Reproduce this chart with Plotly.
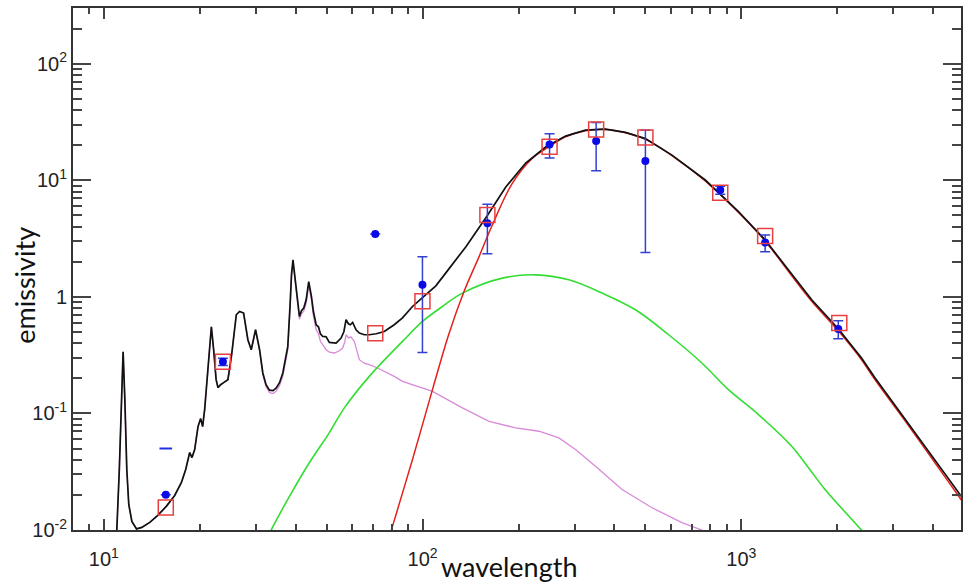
import plotly.graph_objects as go

# ---------------- data (wavelength in micron, emissivity) ----------------
obs_wl = [15.64, 23.63, 71.04, 99.9, 159.7, 250.3, 350.4, 500.2, 859, 1188, 2015]
obs_val = [0.02006, 0.2777, 3.462, 1.267, 4.276, 20.29, 21.66, 14.60, 8.243, 2.917, 0.5292]
obs_err = [0, 0.02, 0, 0.934, 1.94, 4.8, 9.6, 12.2, 0.65, 0.476, 0.093]

limit_wl = [15.64]
limit_val = [0.0500]

model_phot_wl = [15.64, 23.63, 71.04, 99.9, 159.7, 250.3, 350.4, 500.2, 859, 1188, 2030]
model_phot_val = [0.01561, 0.2777, 0.4870, 0.9151, 5.036, 19.36, 27.28, 23.30, 7.816, 3.329, 0.5954]

total_wl = [10.67, 10.98, 11.18, 11.34, 11.49, 11.635, 11.80, 11.97, 12.24, 12.66, 13.15, 13.93,
            14.76, 15.72, 16.68, 17.51, 18.06, 18.59, 18.90, 19.27, 19.74, 20.12, 20.41, 20.71,
            21.17, 21.74, 22.10, 22.50, 22.80, 23.24, 23.75, 24.50, 25.17, 26.03, 26.66, 27.44,
            28.30, 29.00, 29.92, 30.80, 31.53, 32.27, 33.09, 33.94, 34.74, 35.57, 36.43, 37.14,
            37.76, 38.42, 38.78, 39.20, 39.63, 40.11, 40.64, 41.08, 41.68, 42.38, 43.12, 43.93,
            44.80, 45.45, 46.35, 47.12, 47.80, 48.60, 49.81, 51.00, 53.53, 55.49, 56.62, 57.53,
            58.49, 59.34, 60.33, 61.83, 63.32, 65.64, 68.05, 71.55, 75.82, 81.48, 86.49, 92.97,
            99.71, 110.05, 118.3, 130.2, 136.6, 159.3, 182.4, 210.6, 243.3, 281.0, 324.6, 374.9,
            433.0, 500.2, 605.9, 770.9, 980.1, 1188, 1405, 1663, 2015, 2384, 2626, 3338, 4047,
            4892, 5143]
total_val = [0.00255, 0.01012, 0.0330, 0.1313, 0.338, 0.1313, 0.0330, 0.01657, 0.01185, 0.01022,
             0.01053, 0.01162, 0.01334, 0.01602, 0.01978, 0.02556, 0.0330, 0.04618, 0.04183, 0.0490,
             0.0771, 0.0902, 0.0771, 0.1078, 0.2371, 0.5535, 0.3517, 0.1948, 0.1663, 0.1764, 0.1835,
             0.1948, 0.3187, 0.7014, 0.7485, 0.7252, 0.4283, 0.3517, 0.5219, 0.3517, 0.2222, 0.1764,
             0.1583, 0.1567, 0.1653, 0.1835, 0.2222, 0.2888, 0.3754, 0.8833, 1.543, 2.074, 1.637,
             1.218, 0.854, 0.678, 0.759, 0.800, 0.9426, 1.352, 1.006, 0.744, 0.5757, 0.5535, 0.4823,
             0.4571, 0.4545, 0.4062, 0.4014, 0.4430, 0.5016, 0.6356, 0.5873, 0.5757, 0.6025, 0.5219,
             0.4890, 0.4727, 0.4727, 0.4823, 0.5046, 0.5757, 0.661, 0.826, 0.9805, 1.242, 1.605,
             2.244, 2.680, 4.938, 8.744, 14.04, 19.24, 23.90, 26.90, 27.44, 25.71, 22.75, 16.43,
             10.04, 5.374, 3.076, 1.703, 0.9426, 0.532, 0.2986, 0.2025, 0.0829, 0.04023, 0.01951,
             0.01624]

# small-grain (PAH) component: coincides with the total below ~30 micron
pah_wl = total_wl[:39] + [
    30.80, 31.53, 32.27, 33.09, 33.94, 34.74, 35.57, 36.43, 37.14, 37.76, 38.42, 38.78, 39.20,
    39.63, 40.11, 40.64, 41.08, 41.68, 42.38, 43.12, 43.93, 44.80, 45.45, 46.35, 47.12, 47.80,
    48.60, 49.81, 51.00, 52.88, 54.81, 56.13, 57.03, 57.53, 58.49, 59.64, 61.08, 62.19, 63.32,
    65.64, 68.05, 72.23, 81.48, 86.49, 107.4, 133.3, 161.6, 196.0, 231.8, 267.7, 301.9, 348.8,
    422.6, 524.5, 651.1, 752.0, 911.7]
pah_val = total_val[:39] + [
    0.3448, 0.2149, 0.1696, 0.1507, 0.1478, 0.1552, 0.1730, 0.2087, 0.2722, 0.3517, 0.8375,
    1.483, 1.994, 1.573, 1.171, 0.813, 0.6419, 0.7152, 0.7513, 0.8797, 1.267, 0.9333, 0.6809,
    0.5219, 0.4823, 0.4159, 0.3882, 0.3517, 0.3348, 0.3296, 0.3448, 0.3637, 0.4119, 0.4727,
    0.4456, 0.4519, 0.4144, 0.3517, 0.2888, 0.2696, 0.2617, 0.2452, 0.2078, 0.1883, 0.1546,
    0.1115, 0.0856, 0.0751, 0.0703, 0.0617, 0.0490, 0.0352, 0.02227, 0.01552, 0.01155,
    0.00998, 0.00753]

warm_wl = [31.92, 33.57, 38.22, 44.16, 51.00, 56.83, 68.05, 86.49, 99.92, 115.4, 133.3, 177.9,
           226.3, 287.7, 365.8, 465.4, 591.6, 752.0, 911.7, 1132, 1439, 1625, 1831, 2384, 2689]
warm_val = [0.00753, 0.01012, 0.0194, 0.0379, 0.0685, 0.1115, 0.2078, 0.4144, 0.6145, 0.826,
            1.076, 1.446, 1.543, 1.398, 1.076, 0.7741, 0.4727, 0.2706, 0.1599, 0.0977, 0.0523,
            0.0342, 0.02227, 0.00998, 0.00682]

cold_wl = [77.5, 80.5, 92.97, 107.4, 121.2, 134.9, 150.4, 165.5, 191.2, 220.8, 249.1, 281.0,
           324.6, 374.9, 433.0, 500.2, 605.9, 770.9, 980.1, 1188, 1405, 1663, 2015, 2384, 2626,
           3338, 4047, 4892, 5143]
cold_val = [0.00738, 0.0108, 0.04023, 0.1599, 0.4890, 1.110, 2.213, 4.134, 9.408, 15.40, 19.36,
            23.57, 26.53, 27.28, 25.51, 22.39, 16.27, 9.843, 5.290, 3.016, 1.653, 0.9151, 0.5116,
            0.2888, 0.1948, 0.0794, 0.0379, 0.01828, 0.01516]

x_tickvals = [10, 100, 1000]
x_ticktext = ["10<sup>1</sup>", "10<sup>2</sup>", "10<sup>3</sup>"]
y_tickvals = [0.01, 0.1, 1, 10, 100]
y_ticktext = ["10<sup>-2</sup>", "10<sup>-1</sup>", "1", "10<sup>1</sup>", "10<sup>2</sup>"]
x_minor = [8, 9] + [m * 10 for m in range(2, 10)] + [m * 100 for m in range(2, 10)] + [2000, 3000, 4000]
y_minor = [m * 0.01 for m in range(2, 10)] + [m * 0.1 for m in range(2, 10)] + \
          [m * 1 for m in range(2, 10)] + [m * 10 for m in range(2, 10)] + [200]

# ---------------- figure ----------------
fig = go.Figure()
fig.add_trace(go.Scatter(x=pah_wl, y=pah_val, mode="lines",
                         line=dict(color="#d88ad8", width=1.3), hoverinfo="skip"))
fig.add_trace(go.Scatter(x=warm_wl, y=warm_val, mode="lines", line_shape="spline",
                         line=dict(color="#33dd33", width=1.6), hoverinfo="skip"))
fig.add_trace(go.Scatter(x=cold_wl, y=cold_val, mode="lines", line_shape="spline",
                         line=dict(color="#e3211c", width=1.5), hoverinfo="skip"))
fig.add_trace(go.Scatter(x=total_wl, y=total_val, mode="lines",
                         line=dict(color="#111111", width=1.7), hoverinfo="skip"))
fig.add_trace(go.Scatter(x=obs_wl, y=obs_val, mode="markers",
                         marker=dict(color="#0a0ae8", size=8),
                         error_y=dict(type="data", array=obs_err, color="#3340d0",
                                      thickness=1.5, width=5)))
fig.add_trace(go.Scatter(x=limit_wl, y=limit_val, mode="markers",
                         marker=dict(symbol="line-ew", size=9, line=dict(color="#2030e0", width=2))))
fig.add_trace(go.Scatter(x=model_phot_wl, y=model_phot_val, mode="markers",
                         marker=dict(symbol="square-open", size=15,
                                     line=dict(color="#e84040", width=1.5), color="#e84040")))

tick_font = dict(family="Liberation Sans, Arial, sans-serif", size=20, color="#222222")
axis_common = dict(type="log", showgrid=False, zeroline=False, showline=True,
                   linecolor="#333333", linewidth=2, mirror="allticks", ticks="inside",
                   tickcolor="#444444", tickwidth=1.5)

fig.update_xaxes(**axis_common, range=[0.90309, 3.6894], tickmode="array",
                 tickvals=x_tickvals, ticktext=x_ticktext, ticklen=11, ticklabelstandoff=10,
                 tickfont=tick_font,
                 minor=dict(tickmode="array", tickvals=x_minor, ticks="inside", ticklen=6,
                            tickcolor="#444444", tickwidth=1.5, showgrid=False))
fig.update_yaxes(**axis_common, range=[-2, 2.4771], tickmode="array",
                 tickvals=y_tickvals, ticktext=y_ticktext, ticklen=18,
                 tickfont=tick_font,
                 minor=dict(tickmode="array", tickvals=y_minor, ticks="inside", ticklen=9,
                            tickcolor="#444444", tickwidth=1.5, showgrid=False))

fig.update_layout(
    width=963, height=583, showlegend=False,
    margin=dict(l=73, r=0, t=8, b=53),
    paper_bgcolor="white", plot_bgcolor="white",
    annotations=[
        dict(text="wavelength", xref="paper", yref="paper", x=0.491, y=-0.069,
             xanchor="center", yanchor="middle", showarrow=False,
             font=dict(family="Lato", size=27, color="#111111")),
        dict(text="emissivity", xref="paper", yref="paper", x=-0.054, y=0.468,
             xanchor="center", yanchor="middle", showarrow=False, textangle=-90,
             font=dict(family="Lato", size=27, color="#111111")),
    ],
)

fig.write_html("out.html")
